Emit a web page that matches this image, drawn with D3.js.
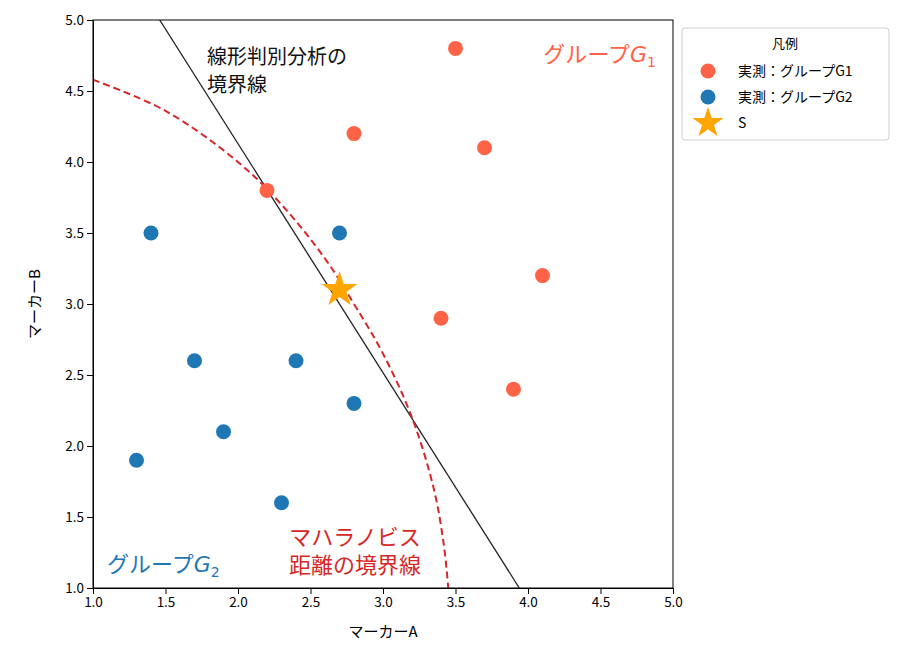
<!DOCTYPE html>
<html><head><meta charset="utf-8">
<script src="https://cdn.jsdelivr.net/npm/d3@7"></script>
<style>body{margin:0;background:#fff}text{font-family:"Noto Sans CJK JP","DejaVu Sans",sans-serif}</style>
</head><body><div id="container"></div>
<script>
const g1X = [3.5, 2.8, 3.7, 2.2, 4.1, 3.4, 3.9]
const g1Y = [4.8, 4.2, 4.1, 3.8, 3.2, 2.9, 2.4]
const g2X = [1.4, 2.7, 1.7, 2.4, 1.9, 2.8, 1.3, 2.3]
const g2Y = [3.5, 3.5, 2.6, 2.6, 2.1, 2.3, 1.9, 1.6]
const star = [2.7, 3.1]
const ldaLine = [[1.46, 5.0], [3.94, 1.0]]
const mahaX = [1.0, 1.5, 2.0, 2.3, 2.6, 2.8, 3.0, 3.2, 3.35, 3.42, 3.45]
const mahaY = [4.58, 4.36, 4.0, 3.7, 3.32, 3.0, 2.65, 2.2, 1.7, 1.3, 1.0]
const ticks = [1.0, 1.5, 2.0, 2.5, 3.0, 3.5, 4.0, 4.5, 5.0]

const width = 902, height = 649
const m = {left: 93, top: 20, right: 229, bottom: 61}
const svg = d3.select("#container").append("svg").attr("width", width).attr("height", height)
const x = d3.scaleLinear().domain([1, 5]).range([m.left, width - m.right])
const y = d3.scaleLinear().domain([1, 5]).range([height - m.bottom, m.top])

svg.append("clipPath").attr("id", "c").append("rect")
    .attr("x", x(1)).attr("y", y(5)).attr("width", x(5) - x(1)).attr("height", y(1) - y(5))
const plot = svg.append("g").attr("clip-path", "url(#c)")

plot.append("path").datum(ldaLine)
    .attr("d", d3.line().x(d => x(d[0])).y(d => y(d[1])))
    .attr("stroke", "#222").attr("stroke-width", 1.3).attr("fill", "none")
plot.append("path").datum(mahaX.map((v, i) => [v, mahaY[i]]))
    .attr("d", d3.line().x(d => x(d[0])).y(d => y(d[1])).curve(d3.curveCatmullRom))
    .attr("stroke", "#d62728").attr("stroke-width", 2).attr("stroke-dasharray", "7,4").attr("fill", "none")

plot.selectAll(".g1").data(g1X).enter().append("circle")
    .attr("cx", d => x(d)).attr("cy", (d, i) => y(g1Y[i])).attr("r", 7.5).attr("fill", "#ff6347")
plot.selectAll(".g2").data(g2X).enter().append("circle")
    .attr("cx", d => x(d)).attr("cy", (d, i) => y(g2Y[i])).attr("r", 7.5).attr("fill", "#1f77b4")
plot.append("path").attr("d", d3.symbol().type(d3.symbolStar).size(400)())
    .attr("transform", `translate(${x(star[0])},${y(star[1])})`).attr("fill", "#ffa500")

svg.append("g").attr("transform", `translate(0,${y(1)})`)
    .call(d3.axisBottom(x).tickValues(ticks).tickFormat(d3.format(".1f")).tickSizeOuter(0))
    .call(g => g.selectAll("text").attr("font-size", 13.5).attr("font-family", "DejaVu Sans"))
svg.append("g").attr("transform", `translate(${x(1)},0)`)
    .call(d3.axisLeft(y).tickValues(ticks).tickFormat(d3.format(".1f")).tickSizeOuter(0))
    .call(g => g.selectAll("text").attr("font-size", 13.5).attr("font-family", "DejaVu Sans"))
svg.append("rect").attr("x", x(1)).attr("y", y(5)).attr("width", x(5) - x(1)).attr("height", y(1) - y(5))
    .attr("fill", "none").attr("stroke", "#000")

svg.append("text").attr("x", (x(1) + x(5)) / 2).attr("y", 637).attr("text-anchor", "middle").attr("font-size", 15).text("マーカーA")
svg.append("text").attr("transform", `translate(40,${(y(1) + y(5)) / 2}) rotate(-90)`).attr("text-anchor", "middle").attr("font-size", 15).text("マーカーB")

function label(tx, ty, lines, color, anchor, fs) {
    const t = svg.append("text").attr("fill", color).attr("font-size", fs).attr("text-anchor", anchor)
    lines.forEach((l, i) => t.append("tspan").attr("x", tx).attr("y", ty + i * 28).text(l))
}
label(207, 64, ["線形判別分析の", "境界線"], "#111", "start", 20)
label(355, 545, ["マハラノビス", "距離の境界線"], "#d62728", "middle", 22)
function group(tx, ty, sub, color, anchor) {
    const t = svg.append("text").attr("x", tx).attr("y", ty).attr("fill", color).attr("font-size", 22).attr("text-anchor", anchor)
    t.append("tspan").text("グループ")
    t.append("tspan").attr("font-style", "italic").attr("font-family", "DejaVu Sans").text("G")
    t.append("tspan").attr("font-size", 14).attr("dy", 5).attr("font-family", "DejaVu Sans").text(sub)
}
group(656, 62, "1", "#ff6347", "end")
group(107, 572, "2", "#1f77b4", "start")

const lg = svg.append("g").attr("transform", "translate(682,28)")
lg.append("rect").attr("width", 207).attr("height", 112).attr("rx", 3).attr("fill", "#fff").attr("stroke", "#ccc")
lg.append("text").attr("x", 103).attr("y", 20).attr("text-anchor", "middle").attr("font-size", 13).text("凡例")
const items = [["実測：グループG1", "#ff6347", "c"], ["実測：グループG2", "#1f77b4", "c"], ["S", "#ffa500", "s"]]
items.forEach((it, i) => {
    const cy = 43 + i * 26
    if (it[2] === "c") lg.append("circle").attr("cx", 26).attr("cy", cy).attr("r", 7.5).attr("fill", it[1])
    else lg.append("path").attr("d", d3.symbol().type(d3.symbolStar).size(300)()).attr("transform", `translate(26,${cy})`).attr("fill", it[1])
    lg.append("text").attr("x", 56).attr("y", cy + 5).attr("font-size", 14).text(it[0])
})
</script></body></html>
